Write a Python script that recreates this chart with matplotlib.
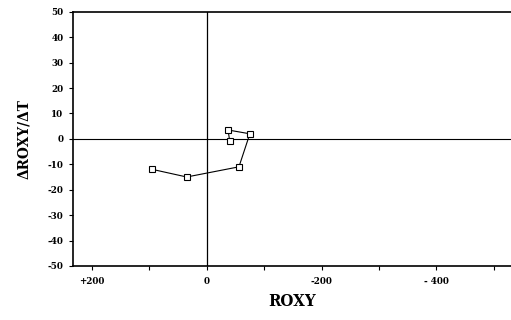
import matplotlib
matplotlib.use("Agg")
import matplotlib.pyplot as plt

# ROXY values and their rate of change
roxy = [95, 35, -56, -75, -37, -40]
droxy_dt = [-12, -15, -11, 2, 3.5, -1]

xticks = [200, 0, -200, -400]
xticklabels = ['+200', '0', '-200', '- 400']
yticks = list(range(-50, 51, 10))

font = dict(family='DejaVu Serif', fontstretch='condensed', fontweight='bold')

fig = plt.figure(figsize=(5.11, 3.2), dpi=100)
ax = fig.add_axes([0.143, 0.169, 0.857, 0.794])

ax.axvline(0, color='black', lw=0.9)
ax.axhline(0, color='black', lw=0.8)
ax.plot(roxy, droxy_dt, color='black', lw=0.8, marker='s', ms=4.5,
        mfc='white', mec='black', mew=0.8)

ax.set_xlim(233, -530)
ax.set_ylim(-50, 50)
ax.set_xticks(xticks)
ax.set_xticklabels(xticklabels, fontsize=7, **font)
ax.set_xticks([100, -100, -300, -500], minor=True)
ax.set_yticks(yticks)
ax.set_yticklabels([str(v) for v in yticks], fontsize=7, **font)
ax.tick_params(axis='x', direction='out', length=3, width=0.8, pad=5)
ax.tick_params(axis='y', direction='out', length=3, width=0.8, pad=4)
ax.tick_params(which='minor', direction='out', length=3, width=0.8)

for s in ['left', 'bottom', 'top']:
    ax.spines[s].set_linewidth(1.2)
ax.spines['right'].set_visible(False)

ax.set_xlabel('ROXY', fontsize=12, labelpad=5, **font)
ax.set_ylabel('ΔROXY/ΔT', fontsize=11, labelpad=12, **font)

fig.savefig('out.png', dpi=100)
